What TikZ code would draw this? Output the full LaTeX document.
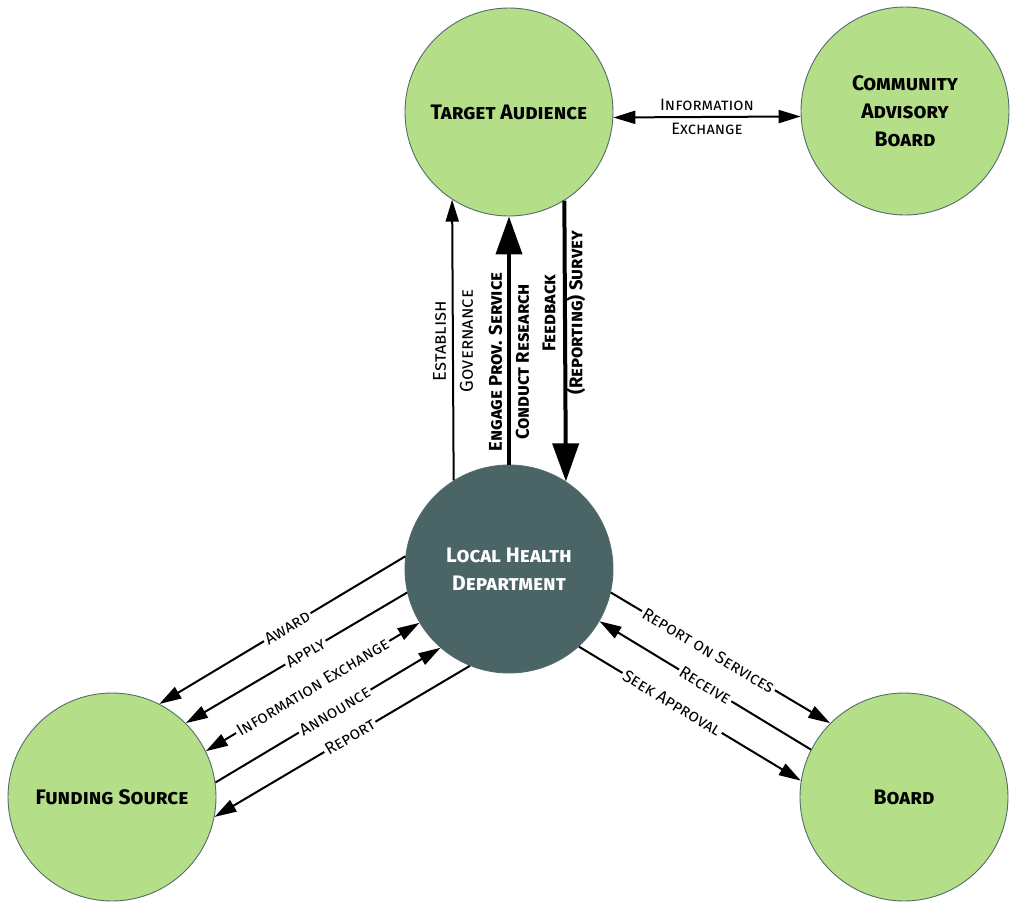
\documentclass[tikz,border=0pt]{standalone}
\usepackage{fontspec}
\setmainfont{Fira Sans}
\usetikzlibrary{arrows.meta}
\definecolor{leaf}{HTML}{B5DE88}
\definecolor{slate}{HTML}{4B6567}
\definecolor{rim}{HTML}{526C6E}
\begin{document}
\begin{tikzpicture}[x=1pt,y=-1pt,
  party/.style={circle, minimum size=208pt, inner sep=0pt, draw=rim, line width=0.9pt,
    fill=leaf, text=black, align=center,
    font=\fontsize{21}{28}\selectfont\bfseries\scshape},
  hub/.style={party, fill=slate, text=white},
  flow/.style={line width=2pt, -{Triangle[length=22pt,width=13pt]}},
  twoway/.style={line width=2pt, {Triangle[length=22pt,width=13pt]}-{Triangle[length=22pt,width=13pt]}},
  heavy/.style={line width=4pt, -{Triangle[length=38pt,width=26pt]}},
  tag/.style={font=\fontsize{17}{25}\selectfont\scshape, fill=white, inner sep=2pt, sloped},
  vtag/.style={font=\fontsize{18.5}{27}\selectfont\scshape, rotate=90, align=center, inner sep=0pt},
  vtagb/.style={vtag, font=\fontsize{18.5}{27}\selectfont\bfseries\scshape}
]
\useasboundingbox (0,0) rectangle (1010,903);

% parties
\node[party] (ta) at (509,112) {Target Audience};
\node[party] (cab) at (905,111) {Community\\Advisory\\Board};
\node[hub] (lhd) at (509,569) {Local Health\\Department};
\node[party] (fs) at (112,797) {Funding Source};
\node[party] (board) at (904,797) {Board};

% target audience <-> advisory board
\draw[twoway] (ta.-3) -- (cab.183)
  node[midway, align=center, font=\fontsize{16.5}{24}\selectfont\scshape] {Information\\Exchange};

% health department <-> target audience
\draw[flow] (lhd.122.6) -- (ta.237.4);
\draw[heavy] (lhd.north) -- (ta.south);
\draw[heavy] (ta.302.6) -- (lhd.57.4);
\node[vtag] (lblgov) at (453,341) {Establish\\Governance};
\node[vtagb] (lblsvc) at (509,362) {Engage Prov. Service\\Conduct Research};
\node[vtagb] (lblfb) at (564,313) {Feedback\\(Reporting) Survey};

% health department <-> funding source
\draw[flow] (lhd.173.4) -- node[tag, pos=0.48] {Award} (fs.63);
\draw[flow] (lhd.193.4) -- node[tag, pos=0.46] {Apply} (fs.45);
\draw[twoway] (fs.26) -- node[tag, pos=0.5] {Information Exchange} (lhd.211.6);
\draw[flow] (fs.8) -- node[tag, pos=0.53] {Announce} (lhd.229);
\draw[flow] (lhd.248) -- node[tag, pos=0.47] {Report} (fs.-11);

% health department <-> board
\draw[flow] (lhd.-13.1) -- node[tag, pos=0.445] {Report on Services} (board.135);
\draw[flow] (board.153) -- node[tag, pos=0.5] {Receive} (lhd.-30.7);
\draw[flow] (lhd.-48.9) -- node[tag, pos=0.42] {Seek Approval} (board.171);
\end{tikzpicture}
\end{document}
